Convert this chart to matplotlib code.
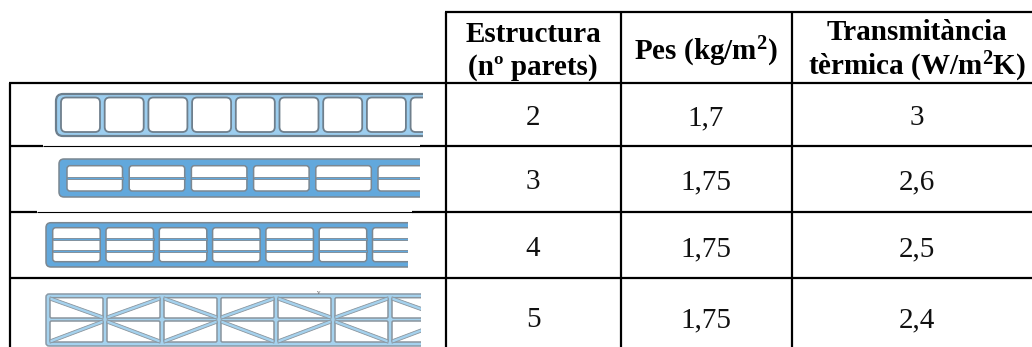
import matplotlib
matplotlib.use("Agg")
import matplotlib.pyplot as plt
from matplotlib.patches import FancyBboxPatch, Rectangle, Polygon

plt.rcParams['font.family'] = ['Liberation Serif', 'DejaVu Serif']
plt.rcParams['mathtext.fontset'] = 'custom'
plt.rcParams['mathtext.bf'] = 'Liberation Serif:bold'
plt.rcParams['mathtext.rm'] = 'Liberation Serif'

# ---- table content ----
header_1 = ["Estructura", "(nº parets)"]
header_2 = ["Pes (kg/m$\\mathbf{^2}$)"]
header_3 = ["Transmitància", "tèrmica (W/m$\\mathbf{^2}$K)"]
parets = ["2", "3", "4", "5"]
pes = ["1,7", "1,75", "1,75", "1,75"]
transmitancia = ["3", "2,6", "2,5", "2,4"]

# ---- layout (pixels) ----
W, H = 1032, 347
col_x = [10, 446, 621, 792]
col_centres = [533, 706, 917]
row_y = [83, 146, 212, 278]
top_y = 12
baselines = [125, 189, 256, 327]

fig = plt.figure(figsize=(W / 100, H / 100), dpi=100)
ax = fig.add_axes([0, 0, 1, 1])
ax.set_xlim(0, W)
ax.set_ylim(H, 0)
ax.axis('off')

LW = 1.6
BLK = '#000000'
EDGE = '#7b8791'


def hline(y, x0, x1, lw=LW):
    ax.plot([x0, x1], [y, y], color=BLK, lw=lw, solid_capstyle='butt', zorder=5)


def panel(x0, x1, y0, y1, fill, edge=EDGE, lw=1.1, rad=5):
    clip = Rectangle((x0 - 3, y0 - 3), x1 - x0 + 3, y1 - y0 + 6, transform=ax.transData)
    p = FancyBboxPatch((x0 + rad, y0 + rad), x1 - x0 + 20, y1 - y0 - 2 * rad,
                       boxstyle=f"round,pad={rad},rounding_size={rad}",
                       fc=fill, ec=edge, lw=lw, zorder=2)
    ax.add_patch(p)
    p.set_clip_path(clip)
    return clip


def cell(x0, x1, y0, y1, clip, rad=3, ec=EDGE, lw=1.1):
    p = FancyBboxPatch((x0 + rad, y0 + rad), x1 - x0 - 2 * rad, y1 - y0 - 2 * rad,
                       boxstyle=f"round,pad={rad},rounding_size={rad}",
                       fc='white', ec=ec, lw=lw, zorder=3)
    ax.add_patch(p)
    p.set_clip_path(clip)


def band(x0, y0, x1, y1, clip, fill, half=1.3, ec=EDGE):
    """Horizontal or slanted wall: a blue strip with grey edges."""
    poly = Polygon([(x0, y0 - half), (x1, y1 - half), (x1, y1 + half), (x0, y0 + half)],
                   closed=True, fc=fill, ec=ec, lw=0.6, zorder=4)
    ax.add_patch(poly)
    poly.set_clip_path(clip)


# ---- row 1: twin wall ----
c = panel(56, 423, 94, 136, '#9ccdee', edge='#6d7f8d', lw=1.6, rad=7)
x = 61.0
for i in range(9):
    cell(x, x + 39, 97.5, 132, c, rad=5, ec='#6f7f8c', lw=1.3)
    x += 43.7

# ---- row 2: triple wall ----
c = panel(59, 420, 159, 197, '#62a8dc', rad=5)
x = 67.0
for i in range(6):
    cell(x, x + 55.5, 165.7, 191, c)
    band(x, 178, x + 55.5, 178, c, '#62a8dc', half=1.0)
    x += 62.2

# ---- row 3: four wall ----
c = panel(46, 408, 222.7, 267, '#62a8dc', rad=5)
x = 52.7
for i in range(7):
    cell(x, x + 47.5, 227.7, 261.7, c)
    band(x, 238.5, x + 47.5, 238.5, c, '#62a8dc', half=1.0)
    band(x, 250.7, x + 47.5, 250.7, c, '#62a8dc', half=1.0)
    x += 53.3

# ---- row 4: five wall with diagonals ----
c = panel(46, 421, 294, 346, '#a5d2ee', edge='#8a99a5', lw=1.1, rad=3)
x = 50.0
for i in range(7):
    cell(x, x + 53, 297.7, 318, c, rad=1.5, ec='#8a959e')
    cell(x, x + 53, 321, 342, c, rad=1.5, ec='#8a959e')
    if i % 2 == 0:
        band(x, 298.5, x + 53, 317.5, c, '#a5d2ee', half=1.7, ec='#8a959e')
        band(x, 341.5, x + 53, 321.5, c, '#a5d2ee', half=1.7, ec='#8a959e')
    else:
        band(x, 317.5, x + 53, 298.5, c, '#a5d2ee', half=1.7, ec='#8a959e')
        band(x, 321.5, x + 53, 341.5, c, '#a5d2ee', half=1.7, ec='#8a959e')
    x += 57
ax.text(319, 293, "v", fontsize=5, color='#555555', ha='center', va='center', zorder=6)

# ---- grid ----
hline(top_y, col_x[1] - 1, W)
hline(row_y[0], col_x[0] - 1, W)
hline(row_y[1], col_x[0], 43)
hline(row_y[1], 43, 420, lw=0.8)
hline(row_y[1], 420, W)
hline(row_y[2], col_x[0], 37)
hline(row_y[2], 37, 412, lw=0.8)
hline(row_y[2], 412, W)
hline(row_y[3], col_x[0], W)
ax.plot([col_x[0]] * 2, [row_y[0], H], color=BLK, lw=LW, solid_capstyle='butt', zorder=5)
for xc in col_x[1:]:
    ax.plot([xc, xc], [top_y, H], color=BLK, lw=LW, solid_capstyle='butt', zorder=5)

# ---- text ----
HFS = 21
for xc, lines, ys in ((col_centres[0], header_1, (42, 75)),
                      (col_centres[1], header_2, (60,)),
                      (col_centres[2], header_3, (40, 75))):
    for s, y in zip(lines, ys):
        ax.text(xc, y, s, fontsize=HFS, fontweight='bold', ha='center', va='baseline',
                color='black', zorder=6)

for b, a, p, t in zip(baselines, parets, pes, transmitancia):
    for xc, s in zip(col_centres, (a, p, t)):
        ax.text(xc, b, s, fontsize=21, ha='center', va='baseline', color='#111111', zorder=6)

fig.savefig('out.png', dpi=100)
